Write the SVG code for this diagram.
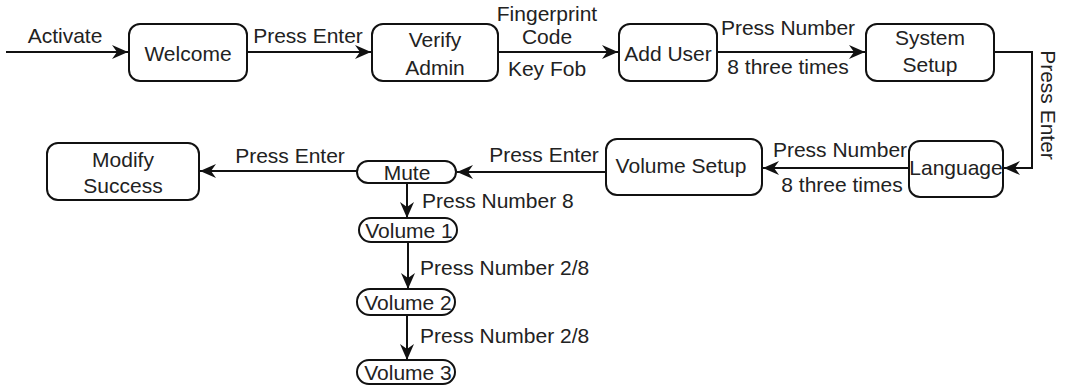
<svg xmlns="http://www.w3.org/2000/svg" width="1069" height="388" viewBox="0 0 1069 388">
<style>
.box{fill:#fff;stroke:#111;stroke-width:2}
.ln{fill:none;stroke:#111;stroke-width:2}
text{font-family:"Liberation Sans",Arial,sans-serif;font-size:21px;fill:#222}
.c{text-anchor:middle}
</style>
<defs>
<marker id="ah" markerWidth="18" markerHeight="14" refX="16" refY="7" orient="auto" markerUnits="userSpaceOnUse">
<path d="M0,0 L16,7 L0,14 L5,7 z" fill="#111"/>
</marker>
</defs>
<rect width="1069" height="388" fill="#fff"/>
<g id="welcome"><rect class="box" x="129" y="24" width="118" height="57" rx="11"/><text class="c" x="188" y="61">Welcome</text></g>
<g id="verify-admin"><rect class="box" x="372" y="24" width="126" height="57" rx="11"/><text class="c" x="435" y="47">Verify</text><text class="c" x="435" y="75">Admin</text></g>
<g id="add-user"><rect class="box" x="619" y="24" width="98" height="57" rx="11"/><text class="c" x="668" y="61">Add User</text></g>
<g id="system-setup"><rect class="box" x="866" y="24" width="128" height="57" rx="11"/><text class="c" x="930" y="45">System</text><text class="c" x="930" y="72">Setup</text></g>
<g id="language"><rect class="box" x="909" y="141" width="94" height="56" rx="11"/><text class="c" x="956" y="175">Language</text></g>
<g id="volume-setup"><rect class="box" x="606" y="139" width="156" height="56" rx="11"/><text class="c" x="681" y="173">Volume Setup</text></g>
<g id="mute"><rect class="box" x="357" y="161" width="99" height="22" rx="11"/><text class="c" x="407" y="180">Mute</text></g>
<g id="modify-success"><rect class="box" x="47" y="143" width="152" height="57" rx="11"/><text class="c" x="123" y="167">Modify</text><text class="c" x="123" y="193">Success</text></g>
<g id="volume1"><rect class="box" x="359" y="218" width="98" height="24" rx="12"/><text class="c" x="409" y="238">Volume 1</text></g>
<g id="volume2"><rect class="box" x="357" y="289" width="98" height="26" rx="13"/><text class="c" x="408" y="310">Volume 2</text></g>
<g id="volume3"><rect class="box" x="357" y="360" width="98" height="24" rx="12"/><text class="c" x="408" y="380">Volume 3</text></g>
<g id="connectors">
<line class="ln" x1="6" y1="52" x2="128" y2="52" marker-end="url(#ah)"/>
<line class="ln" x1="247" y1="52" x2="371" y2="52" marker-end="url(#ah)"/>
<line class="ln" x1="498" y1="52" x2="618" y2="52" marker-end="url(#ah)"/>
<line class="ln" x1="717" y1="52" x2="865" y2="52" marker-end="url(#ah)"/>
<polyline class="ln" points="994,52 1032,52 1032,168 1004,168" marker-end="url(#ah)"/>
<line class="ln" x1="909" y1="168" x2="763" y2="168" marker-end="url(#ah)"/>
<line class="ln" x1="606" y1="172" x2="457" y2="172" marker-end="url(#ah)"/>
<line class="ln" x1="357" y1="171" x2="200" y2="171" marker-end="url(#ah)"/>
<line class="ln" x1="407" y1="183" x2="407" y2="218" marker-end="url(#ah)"/>
<line class="ln" x1="408" y1="242" x2="408" y2="289" marker-end="url(#ah)"/>
<line class="ln" x1="407" y1="315" x2="407" y2="360" marker-end="url(#ah)"/>
<text class="c" x="65" y="43">Activate</text>
<text class="c" x="308" y="43">Press Enter</text>
<text class="c" x="547" y="21">Fingerprint</text>
<text class="c" x="547" y="44">Code</text>
<text class="c" x="547" y="76">Key Fob</text>
<text class="c" x="788" y="35">Press Number</text>
<text class="c" x="788" y="74">8 three times</text>
<text class="c" x="1041" y="105" transform="rotate(90 1041 105)">Press Enter</text>
<text class="c" x="840" y="157">Press Number</text>
<text class="c" x="842" y="192">8 three times</text>
<text class="c" x="544" y="162">Press Enter</text>
<text class="c" x="290" y="163">Press Enter</text>
<text x="422" y="208">Press Number 8</text>
<text x="420" y="275">Press Number 2/8</text>
<text x="420" y="343">Press Number 2/8</text>
</g>
</svg>
